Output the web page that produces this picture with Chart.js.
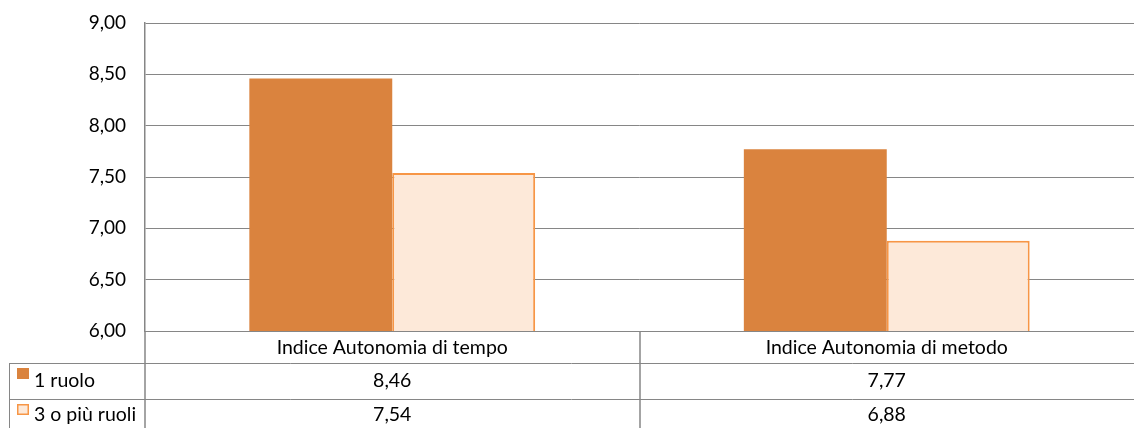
<!DOCTYPE html>
<html>
<head>
<meta charset="utf-8">
<script src="https://cdn.jsdelivr.net/npm/chart.js@4/dist/chart.umd.min.js"></script>
<style>
  html, body { margin: 0; padding: 0; background: #fff; }
  #wrap { width: 1134px; height: 428px; position: relative; }
</style>
</head>
<body>
<div id="wrap"><canvas id="myChart"></canvas></div>
<script>
// categories and series
const categories = ['Indice Autonomia di tempo', 'Indice Autonomia di metodo'];
const seriesNames = ['1 ruolo', '3 o più ruoli'];
const unRuolo = [8.46, 7.77];
const treRuoli = [7.54, 6.88];

const FONT = 'Lato, "Liberation Sans", sans-serif';
const FSIZE = 19;
const LINE = '#868686';

function fmt(v) {
  return v.toFixed(2).replace('.', ',');
}

// data table drawn under the plot area (Excel style)
const dataTable = {
  id: 'dataTable',
  afterDraw(chart) {
    const ctx = chart.ctx;
    const area = chart.chartArea;
    const x = chart.scales.x;
    const top = area.bottom;
    const row1 = top + 32;
    const row2 = top + 68;
    const bottom = chart.height;
    const left = 9;
    const mid = (x.getPixelForValue(0) + x.getPixelForValue(1)) / 2;

    ctx.save();
    ctx.strokeStyle = LINE;
    ctx.lineWidth = 1;
    ctx.beginPath();
    // horizontal rules
    ctx.moveTo(area.left, top + 0.5); ctx.lineTo(area.right, top + 0.5);
    ctx.moveTo(left, row1 + 0.5); ctx.lineTo(area.right, row1 + 0.5);
    ctx.moveTo(left, row2 + 0.5); ctx.lineTo(area.right, row2 + 0.5);
    // vertical rules
    ctx.moveTo(left + 0.5, row1); ctx.lineTo(left + 0.5, bottom);
    ctx.stroke();
    ctx.lineWidth = 1.5;
    ctx.beginPath();
    ctx.moveTo(area.left, top); ctx.lineTo(area.left, bottom);
    ctx.moveTo(Math.round(mid), top); ctx.lineTo(Math.round(mid), bottom);
    ctx.stroke();

    ctx.fillStyle = '#000';
    ctx.font = '19.5px ' + FONT;
    ctx.textBaseline = 'middle';
    ctx.textAlign = 'center';
    categories.forEach((c, i) => {
      const cx = x.getPixelForValue(i);
      ctx.fillText(c, cx, top + 17);
      ctx.fillText(fmt(unRuolo[i]), cx, row1 + 18);
      ctx.fillText(fmt(treRuoli[i]), cx, row2 + 16);
    });

    // legend keys
    const ds = chart.data.datasets;
    [row1, row2].forEach((ry, i) => {
      const ky = ry + 5;
      ctx.fillStyle = ds[i].backgroundColor;
      ctx.fillRect(17, ky, 12, 11);
      if (ds[i].borderWidth) {
        ctx.strokeStyle = ds[i].borderColor;
        ctx.lineWidth = 1.5;
        ctx.strokeRect(17.75, ky + 0.75, 10.5, 9.5);
      }
      ctx.fillStyle = '#000';
      ctx.textAlign = 'left';
      ctx.fillText(seriesNames[i], 34, ry + (i === 0 ? 18 : 16));
    });
    ctx.restore();
  }
};

const config = {
  type: 'bar',
  data: {
    labels: categories,
    datasets: [
      {
        label: seriesNames[0],
        data: unRuolo,
        backgroundColor: '#DA833E',
        borderWidth: 0
      },
      {
        label: seriesNames[1],
        data: treRuoli,
        backgroundColor: '#FDE9D9',
        borderColor: '#F79646',
        borderWidth: 2
      }
    ]
  },
  options: {
    responsive: false,
    animation: false,
    datasets: { bar: { categoryPercentage: 0.578, barPercentage: 1 } },
    layout: { padding: { left: 0, top: 23, right: 0, bottom: 97 } },
    plugins: { legend: { display: false }, tooltip: { enabled: false } },
    scales: {
      x: { display: false },
      y: {
        min: 6,
        max: 9,
        ticks: {
          stepSize: 0.5,
          callback: v => fmt(v),
          color: '#000',
          font: { family: FONT, size: FSIZE },
          padding: 19
        },
        grid: { color: LINE, drawTicks: false },
        border: { color: LINE, width: 1.5 },
        afterFit(scale) {
          // fixed axis width, no extra room above/below for the labels
          scale.width = 145;
          scale.paddingTop = 0;
          scale.paddingBottom = 0;
        }
      }
    }
  },
  plugins: [dataTable]
};

const canvas = document.getElementById('myChart');
canvas.width = 1134;
canvas.height = 428;
const myChart = new Chart(canvas, config);
</script>
</body>
</html>
